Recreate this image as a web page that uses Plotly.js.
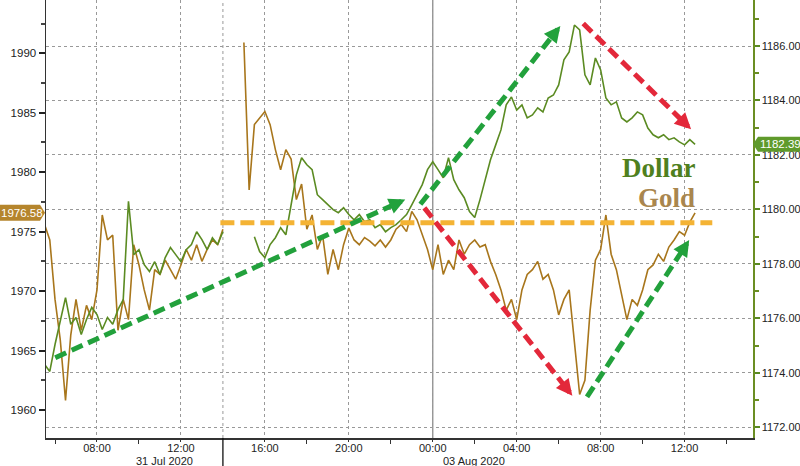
<!DOCTYPE html>
<html><head><meta charset="utf-8">
<script src="https://cdn.plot.ly/plotly-3.0.1.min.js"></script>
<style>html,body{margin:0;padding:0;background:#fff}#chart{width:800px;height:466px}</style>
</head><body><div id="chart"></div>
<script>
// Time axis: hours from 31 Jul 2020 00:00, weekend gap removed (Sun 2 Aug 14:00 is drawn at 14.0)
const tickHours = [8, 12, 16, 20, 24, 28, 32, 36];
const tickLabels = ["08:00", "12:00", "16:00", "20:00", "00:00", "04:00", "08:00", "12:00"];
const minorTickHours = [6, 10, 18, 22, 26, 30, 34, 38];
const dateLabels = ["31 Jul 2020", "03 Aug 2020"];
const seriesNames = ["Dollar", "Gold"];

// 15-minute samples
const sampleStep = 0.25;
const gold31Start = 5.5, goldAugStart = 15.0;
const dollar31Start = 5.5, dollarAugStart = 15.5;

const gold31 = [
  1975.6, 1974.3, 1969.3, 1965.9, 1960.8, 1966.3, 1969.3, 1966.7, 1968.8, 1967.6,
  1970.1, 1976.4, 1974.3, 1974.7, 1966.7, 1969.3, 1967.6, 1973.9, 1972.2, 1970.1,
  1968.4, 1971.8, 1971.4, 1972.6, 1971.8, 1971.0, 1972.2, 1973.5, 1972.6, 1973.9,
  1972.5, 1973.5, 1974.3, 1973.9, 1975.2
];
const goldAug = [
  1990.9, 1978.5, 1984.0, 1984.6,
  1985.1, 1984.0, 1981.9, 1980.2,
  1981.9, 1981.1, 1977.7, 1979.0,
  1975.2, 1976.4, 1973.5, 1974.7,
  1971.4, 1973.5, 1971.8, 1973.9,
  1975.3, 1974.3, 1973.9, 1974.5,
  1974.2, 1973.8, 1974.3, 1973.7,
  1974.3, 1975.2, 1975.6, 1975.0,
  1976.7, 1976.0, 1974.7, 1973.5,
  1971.8, 1973.9, 1971.4, 1972.6,
  1971.8, 1974.3, 1973.1, 1973.9,
  1974.3, 1973.7, 1973.9, 1972.5,
  1971.4, 1970.1, 1968.4, 1969.3,
  1967.6, 1970.1, 1971.4, 1971.8,
  1972.5, 1971.0, 1971.4, 1970.1,
  1968.0, 1969.3, 1970.1, 1965.9,
  1961.3, 1962.5, 1968.4, 1972.6,
  1973.5, 1976.4, 1973.1, 1971.8,
  1969.7, 1967.6, 1969.3, 1968.8,
  1970.1, 1971.8, 1972.2, 1973.1,
  1972.5, 1973.7, 1974.3, 1975.0,
  1974.7, 1975.8, 1976.58
];
const dollar31 = [
  1174.31, 1174.05, 1175.04, 1175.96, 1176.76, 1175.78, 1176.03, 1175.41, 1175.96, 1176.40,
  1176.14, 1175.59, 1176.03, 1175.78, 1176.32, 1176.69, 1180.30, 1178.34, 1178.52, 1177.97,
  1177.72, 1178.08, 1177.61, 1178.23, 1178.60, 1178.34, 1178.08, 1178.52, 1178.71, 1179.18,
  1178.89, 1178.52, 1178.96, 1178.71, 1179.18
];
const dollarAug = [
  1179.00, 1178.45,
  1178.23, 1178.71, 1178.96, 1179.33,
  1179.07, 1180.17, 1181.27, 1181.90,
  1181.64, 1181.46, 1180.54, 1180.36,
  1180.17, 1179.99, 1179.88, 1180.06,
  1179.81, 1179.62, 1179.81, 1179.55,
  1179.62, 1179.33, 1179.44, 1179.18,
  1179.33, 1179.44, 1179.62, 1179.81,
  1180.17, 1180.54, 1180.91, 1181.46,
  1181.75, 1181.46, 1181.16, 1181.90,
  1181.09, 1180.72, 1180.43, 1179.92,
  1179.70, 1180.36, 1181.09, 1181.82,
  1182.37, 1182.92, 1183.84, 1184.13,
  1183.65, 1183.84, 1183.36, 1183.47,
  1183.73, 1183.58, 1184.09, 1184.20,
  1184.57, 1185.49, 1185.78, 1186.77,
  1186.59, 1184.94, 1184.57, 1185.56,
  1185.12, 1184.09, 1183.84, 1183.95,
  1183.36, 1183.21, 1183.36, 1183.58,
  1183.47, 1182.99, 1182.74, 1182.63,
  1182.74, 1182.56, 1182.63, 1182.48,
  1182.37, 1182.56, 1182.39
];
const lastGold = goldAug[goldAug.length - 1];
const lastDollar = dollarAug[dollarAug.length - 1];

function sampleTimes(start, n) { return Array.from({length: n}, (_, i) => start + i * sampleStep); }
function joinSessions(a, b) { return a.concat([null], b); }

const goldX = joinSessions(sampleTimes(gold31Start, gold31.length), sampleTimes(goldAugStart, goldAug.length));
const goldY = joinSessions(gold31, goldAug);
const dollarX = joinSessions(sampleTimes(dollar31Start, dollar31.length), sampleTimes(dollarAugStart, dollarAug.length));
const dollarY = joinSessions(dollar31, dollarAug);

// ---- style / layout ----
const W = 800, H = 466;
const M = {l: 46, r: 47, t: 0, b: 28};
const xRange = [5.57, 39.26];
const yRange = [1957.645, 1994.48];
const y2Range = [1171.607, 1187.689];
const plotW = W - M.l - M.r, plotH = H - M.t - M.b;
const pxX = plotW / (xRange[1] - xRange[0]);
const pxY = plotH / (yRange[1] - yRange[0]);

const GOLD = '#a8761c', DOLLAR = '#5b8b22';
const GREEN = '#22a13c', RED = '#e3283a', ORANGE = '#f4b334';
const FAM = 'Liberation Sans, Arial, sans-serif';
const tickFont = {family: FAM, size: 11, color: '#222'};

// overlay arrows, in (hour, gold-axis value)
const arrows = [
  {from: [6.01, 1964.4], to: [22.69, 1977.7], color: GREEN},
  {from: [23.41, 1977.3], to: [30.08, 1992.3], color: GREEN},
  {from: [31.17, 1992.5], to: [36.31, 1983.6], color: RED},
  {from: [23.60, 1977.0], to: [30.65, 1961.2], color: RED},
  {from: [31.35, 1961.1], to: [36.22, 1974.3], color: GREEN}
];

const shapes = [
  {type: 'line', xref: 'x', yref: 'paper', x0: 24, x1: 24, y0: 0, y1: 1, line: {color: '#8a8a8a', width: 1.3}, layer: 'below'},
  {type: 'line', xref: 'x', yref: 'paper', x0: 14, x1: 14, y0: 0, y1: 1, line: {color: '#999', width: 1, dash: 'dot'}, layer: 'below'},
  {type: 'line', xref: 'x', yref: 'paper', x0: 14, x1: 14, y0: -0.07, y1: 0, line: {color: '#111', width: 1.3}},
  {type: 'line', xref: 'x', yref: 'y', x0: 13.88, x1: 37.32, y0: 1975.75, y1: 1975.75, line: {color: ORANGE, width: 5, dash: '14px,6px'}}
];
const annotations = [];
const HEAD = 15;
arrows.forEach(a => {
  const dx = (a.to[0] - a.from[0]) * pxX, dy = -(a.to[1] - a.from[1]) * pxY;
  const len = Math.hypot(dx, dy), ux = dx / len, uy = dy / len;
  shapes.push({type: 'line', xref: 'x', yref: 'y', x0: a.from[0], y0: a.from[1],
    x1: a.to[0] - ux * HEAD / pxX, y1: a.to[1] + uy * HEAD / pxY,
    line: {color: a.color, width: 5, dash: '12px,6px'}});
  annotations.push({x: a.to[0], y: a.to[1], xref: 'x', yref: 'y', text: '', showarrow: true,
    ax: -ux * HEAD, ay: -uy * HEAD, arrowhead: 2, arrowsize: 0.65, arrowwidth: 5, arrowcolor: a.color, standoff: 0});
});

// value tags
const lx0 = -46 / plotW, lx1 = -6 / plotW, lxt = -1 / plotW;
const gH = 8 / pxY;
shapes.push({type: 'path', xref: 'paper', yref: 'y', fillcolor: '#b5852c', line: {width: 0},
  path: `M ${lx0},${lastGold + gH} L ${lx1},${lastGold + gH} L ${lxt},${lastGold} L ${lx1},${lastGold - gH} L ${lx0},${lastGold - gH} Z`});
const pxY2 = plotH / (y2Range[1] - y2Range[0]);
const dH = 7.5 / pxY2;
const rx0 = 1 + 0 / plotW, rx1 = 1 + 5 / plotW, rx2 = 1 + 48 / plotW;
shapes.push({type: 'path', xref: 'paper', yref: 'y2', fillcolor: '#5f9a2b', line: {width: 0},
  path: `M ${rx0},${lastDollar} L ${rx1},${lastDollar + dH} L ${rx2},${lastDollar + dH} L ${rx2},${lastDollar - dH} L ${rx1},${lastDollar - dH} Z`});
annotations.push({xref: 'paper', yref: 'y', x: -24 / plotW, y: lastGold, text: lastGold.toFixed(2), showarrow: false,
  font: {family: FAM, size: 11.5, color: '#fff'}, xanchor: 'center', yanchor: 'middle', borderpad: 0});
annotations.push({xref: 'paper', yref: 'y2', x: 1 + 27 / plotW, y: lastDollar, text: lastDollar.toFixed(2), showarrow: false,
  font: {family: FAM, size: 11.5, color: '#fff'}, xanchor: 'center', yanchor: 'middle', borderpad: 0});

// series labels
annotations.push({xref: 'paper', yref: 'paper', x: (698 - M.l) / plotW, y: 1 - 168 / plotH, text: '<b>' + seriesNames[0] + '</b>',
  showarrow: false, font: {family: 'Liberation Serif, serif', size: 27, color: '#4f801e'}});
annotations.push({xref: 'paper', yref: 'paper', x: (697 - M.l) / plotW, y: 1 - 198 / plotH, text: '<b>' + seriesNames[1] + '</b>',
  showarrow: false, font: {family: 'Liberation Serif, serif', size: 27, color: '#a9864e'}});

// date labels
annotations.push({xref: 'paper', yref: 'paper', x: (134.5 - M.l) / plotW, y: -22.5 / plotH, text: dateLabels[0], showarrow: false,
  font: tickFont, yanchor: 'middle', borderpad: 0});
annotations.push({xref: 'paper', yref: 'paper', x: (474 - M.l) / plotW, y: -22.5 / plotH, text: dateLabels[1], showarrow: false,
  font: tickFont, yanchor: 'middle', borderpad: 0});

const data = [
  {x: goldX, y: goldY, type: 'scatter', mode: 'lines', name: seriesNames[1], yaxis: 'y',
   line: {color: GOLD, width: 1.6}, connectgaps: false, hoverinfo: 'skip'},
  {x: dollarX, y: dollarY, type: 'scatter', mode: 'lines', name: seriesNames[0], yaxis: 'y2',
   line: {color: DOLLAR, width: 1.6}, connectgaps: false, hoverinfo: 'skip'}
];

const layout = {
  width: W, height: H, margin: M, showlegend: false,
  paper_bgcolor: '#fff', plot_bgcolor: '#fff',
  xaxis: {range: xRange, tickvals: tickHours, ticktext: tickLabels, tickfont: tickFont,
    showgrid: true, gridcolor: '#999', griddash: 'dot', gridwidth: 1, zeroline: false,
    showline: true, linecolor: '#333', linewidth: 1.5, ticks: 'outside', ticklen: 2, tickcolor: '#333',
    ticklabelstandoff: -3,
    minor: {tickvals: minorTickHours, ticks: 'outside', ticklen: 4, tickcolor: '#333', showgrid: false}},
  yaxis: {range: yRange, tick0: 1960, dtick: 5, tickfont: {family: FAM, size: 11.5, color: '#222'}, showgrid: false, zeroline: false,
    showline: true, linecolor: '#333', linewidth: 1.5, ticks: 'outside', ticklen: 6, tickwidth: 2, tickcolor: '#222',
    minor: {tick0: 1957.5, dtick: 2.5, ticks: 'outside', ticklen: 4, tickcolor: '#444', showgrid: false}},
  yaxis2: {range: y2Range, overlaying: 'y', side: 'right', tick0: 1172, dtick: 2, tickformat: '.2f', tickfont: tickFont,
    showgrid: true, gridcolor: '#999', griddash: 'dot', gridwidth: 1, zeroline: false,
    showline: true, linecolor: '#6b8e23', linewidth: 1.5, ticks: 'outside', ticklen: 5, tickwidth: 2, tickcolor: '#5a8a22',
    minor: {tick0: 1171, dtick: 1, ticks: 'outside', ticklen: 4, tickcolor: '#6b8e23', showgrid: false}},
  shapes: shapes, annotations: annotations
};

Plotly.newPlot('chart', data, layout, {staticPlot: true, displayModeBar: false});
</script></body></html>
